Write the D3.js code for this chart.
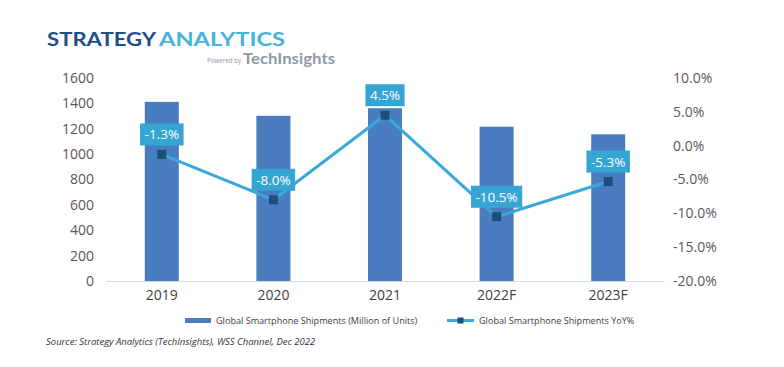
<!DOCTYPE html>
<html><head><meta charset="utf-8">
<script src="https://cdn.jsdelivr.net/npm/d3@7"></script>
<style>body{margin:0;background:#fff}svg{display:block}</style>
</head><body>
<script>
const categories = ["2019","2020","2021","2022F","2023F"];
const shipments = [1412, 1302, 1362, 1216, 1156];
const yoy = [-1.3, -8.0, 4.5, -10.5, -5.3];
const leftTicks = [0,200,400,600,800,1000,1200,1400,1600];
const rightTicks = [-20,-15,-10,-5,0,5,10];
const seriesNames = ["Global Smartphone Shipments (Million of Units)","Global Smartphone Shipments YoY%"];
const sourceText = "Source: Strategy Analytics (TechInsights), WSS Channel, Dec 2022";

const W=784,H=367;
const svg=d3.select("body").append("svg").attr("width",W).attr("height",H);
const font="'Open Sans', sans-serif";
const barColor="#4a7dbf", lineColor="#38a9d8", labelBg="#35a5d3", markerColor="#1b4f7a";

// logo
svg.append("text").attr("x",47).attr("y",45.5).attr("font-family","Lato, sans-serif").attr("font-weight",700).attr("font-size",19)
  .attr("fill","#1e4f8c").attr("textLength",109).attr("lengthAdjust","spacingAndGlyphs").text("STRATEGY");
svg.append("text").attr("x",159).attr("y",45.5).attr("font-family","Lato, sans-serif").attr("font-weight",700).attr("font-size",19)
  .attr("fill","#45b3dc").attr("textLength",126).attr("lengthAdjust","spacingAndGlyphs").text("ANALYTICS");
svg.append("text").attr("x",207).attr("y",63).attr("font-family",font).attr("font-size",6.5).attr("fill","#8a9aa3")
  .attr("textLength",34).attr("lengthAdjust","spacingAndGlyphs").text("Powered by");
svg.append("text").attr("x",243).attr("y",64).attr("font-family","Lato, sans-serif").attr("font-weight",700).attr("font-size",15).attr("fill","#8d9ba3")
  .attr("textLength",92).attr("lengthAdjust","spacingAndGlyphs").text("TechInsights");

const x=d3.scaleBand().domain(categories).range([106,664]).padding(0);
const yL=d3.scaleLinear().domain([0,1600]).range([281,78]);
const yR=d3.scaleLinear().domain([-20,10]).range([281,78]);
const bw=x.bandwidth()*0.305;

// left axis
const la=svg.append("g").attr("transform","translate(94,0)").call(d3.axisLeft(yL).tickValues(leftTicks).tickSize(0).tickPadding(0).tickFormat(d3.format("d")));
la.select(".domain").remove();
la.selectAll("text").attr("font-family",font).attr("font-size",14).attr("fill","#595959");
// right axis
const ra=svg.append("g").attr("transform","translate(673,0)").call(d3.axisRight(yR).tickValues(rightTicks).tickSize(0).tickPadding(0).tickFormat(d=>d.toFixed(1)+"%"));
ra.select(".domain").remove();
ra.selectAll("text").attr("font-family",font).attr("font-size",14).attr("fill","#595959");

// bars
svg.append("g").selectAll("rect").data(shipments).join("rect")
 .attr("x",(d,i)=>x(categories[i])+x.bandwidth()/2-bw/2).attr("width",bw)
 .attr("y",d=>yL(d)).attr("height",d=>yL(0)-yL(d)).attr("fill",barColor);

// x axis
const xa=svg.append("g").attr("transform","translate(0,281)").call(d3.axisBottom(x).tickSize(0).tickPadding(9));
xa.select(".domain").attr("stroke","#d9d9d9").attr("stroke-width",1);
xa.selectAll("text").attr("font-family",font).attr("font-size",14).attr("fill","#404040");

// line
const cx=(i)=>x(categories[i])+x.bandwidth()/2;
svg.append("path").datum(yoy).attr("fill","none").attr("stroke",lineColor).attr("stroke-width",3)
 .attr("d",d3.line().x((d,i)=>cx(i)).y(d=>yR(d)));
svg.append("g").selectAll("rect").data(yoy).join("rect")
 .attr("x",(d,i)=>cx(i)-4.5).attr("y",d=>yR(d)-4.5).attr("width",9).attr("height",9).attr("fill",markerColor);

// data labels
const lg=svg.append("g").selectAll("g").data(yoy).join("g");
lg.each(function(d,i){
  const g=d3.select(this);
  const t=g.append("text").attr("x",cx(i)).attr("y",yR(d)-15).attr("text-anchor","middle")
    .attr("font-family",font).attr("font-size",13.5).attr("fill","#fff").text(d.toFixed(1)+"%");
  const w=t.node().getComputedTextLength()+9;
  g.insert("rect","text").attr("x",cx(i)-w/2).attr("y",yR(d)-31).attr("width",w).attr("height",22).attr("fill",labelBg);
});

// legend
svg.append("rect").attr("x",185).attr("y",318).attr("width",26).attr("height",5).attr("fill",barColor);
svg.append("text").attr("x",216).attr("y",323.5).attr("font-family",font).attr("font-size",9.1).attr("fill","#404040").text(seriesNames[0]);
svg.append("line").attr("x1",447).attr("x2",474).attr("y1",320.5).attr("y2",320.5).attr("stroke",lineColor).attr("stroke-width",3);
svg.append("rect").attr("x",457.5).attr("y",317.5).attr("width",6).attr("height",6).attr("fill",markerColor);
svg.append("text").attr("x",479).attr("y",323.5).attr("font-family",font).attr("font-size",9.1).attr("fill","#404040").text(seriesNames[1]);

// source
svg.append("text").attr("x",46).attr("y",345).attr("font-family",font).attr("font-style","italic").attr("font-size",9.5).attr("fill","#333").text(sourceText);
</script>
</body></html>
